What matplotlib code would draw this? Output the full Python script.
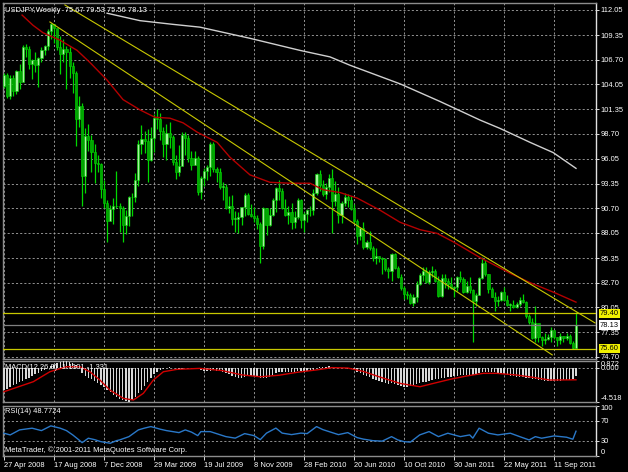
import numpy as np
import matplotlib.pyplot as plt
from matplotlib.transforms import blended_transform_factory

# weekly USDJPY bars, 27 Apr 2008 .. 30 Oct 2011
highs = [105.3, 105.3, 105.0, 105.0, 105.6, 106.2, 108.3, 108.4, 108.2, 106.8, 107.5, 107.0, 108.1, 108.3, 110.0, 110.7,
         110.5, 110.0, 109.3, 108.9, 108.2, 108.1, 106.5, 105.5, 102.8, 102.0, 99.3, 99.8, 98.6, 97.6, 96.4, 95.6,
         93.7, 91.6, 91.1, 91.8, 94.7, 91.3, 91.0, 90.5, 92.0, 92.3, 94.5, 98.1, 99.7, 99.0, 99.2, 99.5,
         100.8, 101.4, 101.0, 99.5, 99.8, 100.0, 98.6, 96.4, 97.5, 98.9, 98.9, 98.6, 96.9, 96.9, 96.3, 94.2,
         95.0, 95.4, 97.8, 97.8, 95.1, 95.0, 93.5, 93.3, 92.0, 92.1, 90.4, 90.3, 90.8, 92.3, 92.3, 91.2,
         90.8, 90.0, 89.2, 90.8, 90.6, 90.7, 91.8, 93.0, 93.8, 92.9, 91.7, 90.9, 91.3, 90.4, 91.8, 91.7,
         90.3, 90.6, 91.0, 92.8, 94.5, 94.8, 93.7, 93.4, 94.4, 94.9, 93.6, 93.0, 91.5, 92.3, 92.2, 92.0,
         91.2, 89.6, 88.7, 89.2, 87.3, 88.3, 86.6, 86.4, 85.6, 85.5, 85.3, 84.4, 85.9, 85.9, 84.5, 83.6,
         82.3, 81.8, 81.6, 81.5, 82.9, 83.7, 84.4, 84.4, 84.1, 84.5, 84.2, 83.4, 83.6, 83.6, 83.2, 83.3,
         82.3, 83.4, 84.0, 83.3, 82.9, 83.3, 82.0, 81.6, 83.3, 85.5, 85.1, 83.6, 82.2, 81.7, 81.3, 81.8,
         82.2, 81.4, 80.5, 80.8, 80.6, 81.1, 81.5, 80.7, 79.3, 78.9, 80.2, 78.0, 77.0, 77.3, 77.2, 77.9,
         77.5, 76.8, 77.3, 77.0, 77.3, 77.2, 76.4, 79.53]
lows = [103.6, 102.6, 102.5, 102.8, 103.0, 103.5, 104.5, 107.0, 105.7, 104.6, 105.4, 103.8, 106.4, 107.2, 107.7, 108.9,
        108.5, 107.7, 105.2, 106.5, 103.5, 104.7, 103.1, 97.4, 99.5, 90.9, 92.3, 96.9, 94.6, 93.4, 94.6, 91.8,
        90.7, 87.1, 89.8, 89.0, 90.7, 88.2, 87.1, 87.9, 88.8, 89.9, 91.4, 93.1, 96.5, 96.7, 93.5, 95.8,
        96.8, 99.2, 98.0, 96.2, 95.9, 97.2, 95.4, 93.9, 94.2, 95.6, 96.4, 95.7, 94.8, 95.5, 92.1, 91.7,
        93.1, 93.7, 94.2, 94.6, 93.5, 92.8, 91.6, 90.6, 90.2, 88.9, 88.2, 88.0, 88.9, 89.9, 90.0, 89.8,
        89.2, 88.5, 84.8, 86.3, 87.8, 88.8, 89.9, 90.3, 91.6, 90.6, 89.9, 89.0, 88.5, 88.6, 89.6, 88.6,
        88.1, 89.2, 89.9, 90.0, 92.1, 92.6, 92.0, 91.7, 92.5, 88.0, 91.0, 89.1, 89.1, 91.0, 90.8, 90.5,
        89.1, 86.9, 87.3, 86.3, 86.3, 86.2, 85.0, 84.7, 84.9, 83.6, 83.9, 83.2, 82.9, 84.2, 83.2, 81.9,
        80.9, 80.9, 80.4, 80.2, 80.6, 82.4, 82.9, 82.7, 82.6, 83.3, 82.8, 81.2, 81.2, 82.1, 82.0, 82.0,
        81.1, 81.8, 82.8, 81.6, 81.6, 81.6, 76.3, 80.2, 81.4, 83.1, 83.4, 81.6, 81.1, 79.6, 80.2, 80.7,
        80.7, 80.2, 79.7, 80.0, 80.0, 80.2, 80.5, 78.9, 78.2, 76.6, 76.3, 76.3, 75.9, 76.1, 76.5, 76.3,
        76.6, 75.9, 76.1, 76.3, 76.5, 76.1, 75.6, 75.56]
closes = [105.1, 102.8, 104.7, 103.3, 105.5, 104.3, 108.1, 107.8, 106.2, 106.7, 106.1, 106.9, 107.7, 108.2, 109.8, 110.5,
          110.1, 108.1, 107.3, 107.8, 107.5, 106.0, 105.3, 100.3, 101.7, 94.2, 98.5, 98.0, 96.8, 95.6, 95.5, 92.8,
          91.3, 89.3, 90.6, 91.0, 90.9, 90.7, 88.9, 89.9, 91.9, 91.9, 93.7, 97.6, 98.2, 97.9, 95.9, 98.3,
          100.4, 100.3, 99.0, 97.6, 98.8, 98.4, 95.7, 94.6, 95.3, 98.6, 98.3, 96.1, 95.4, 96.1, 92.5, 94.0,
          94.7, 95.2, 97.6, 94.9, 94.6, 93.0, 93.0, 90.7, 90.9, 89.6, 89.6, 89.8, 90.8, 92.1, 90.1, 89.9,
          89.7, 89.0, 86.6, 90.7, 88.9, 90.0, 91.6, 92.9, 92.6, 90.7, 90.0, 90.3, 89.2, 89.8, 91.6, 89.4,
          90.1, 90.5, 90.5, 92.4, 94.4, 93.2, 92.2, 93.0, 94.0, 91.5, 92.2, 90.0, 91.3, 91.9, 91.6, 90.6,
          89.3, 87.7, 88.6, 86.5, 87.1, 86.4, 85.4, 85.6, 85.4, 85.2, 84.2, 83.9, 85.8, 84.3, 83.3, 82.1,
          81.5, 81.4, 80.5, 81.2, 82.5, 83.5, 84.0, 82.8, 83.8, 83.9, 82.9, 81.3, 83.2, 82.9, 82.5, 82.1,
          82.2, 83.3, 83.1, 81.7, 82.3, 81.9, 80.7, 81.4, 83.2, 84.8, 83.6, 82.0, 81.2, 80.7, 80.8, 81.7,
          80.8, 80.3, 80.3, 80.1, 80.4, 80.8, 80.6, 79.1, 78.5, 76.7, 78.4, 76.8, 76.5, 76.6, 76.8, 77.6,
          76.8, 76.5, 77.0, 76.7, 77.0, 76.2, 75.67, 78.13]
first_open = 103.9
opens = [first_open] + closes[:-1]

# moving averages
ma_red_bars = [5.8, 9.3, 12.5, 17.9, 23.4, 27.5, 33.0, 38.1, 43.5, 48.3, 53.1, 57.3, 61.8, 68.2, 72.3, 78.7,
               85.1, 91.5, 97.9, 102.1, 107.5, 113.0, 120.3, 126.7, 133.1, 138.6, 143.7, 152.3, 162.0, 168.3, 176.3, 183]
ma_red_vals = [111.5, 110.4, 109.6, 108.8, 107.7, 106.4, 104.5, 102.4, 101.3, 100.5, 100.4, 99.9, 98.9, 97.8, 96.2, 94.3,
               93.5, 93.4, 93.4, 92.7, 92.4, 91.8, 90.5, 89.2, 88.4, 88.0, 87.1, 85.4, 83.7, 82.7, 81.6, 80.6]
ma_white_bars = [33.0, 43.5, 54.1, 62.7, 78.7, 94.7, 104.3, 110.7, 126.7, 139.5, 152.3, 158.7, 168.3, 175.7, 183]
ma_white_vals = [111.7, 110.9, 110.5, 110.2, 109.0, 107.7, 107.0, 106.1, 104.1, 102.2, 100.2, 99.3, 97.8, 96.7, 95.0]

# trend lines and levels
trend_upper = ([19.5, 189.1], [112.59, 78.36])
trend_lower = ([14.7, 175.4], [110.76, 74.92])
levels = [79.40, 75.60]
bid = 78.13

# MACD(12,26,9) main, one value per bar
macd = [-2.95, -2.75, -2.5, -2.3, -2.1, -1.9, -1.7, -1.45, -1.3, -1.1, -0.9, -0.7, -0.45, -0.25, -0.05, 0.15,
        0.35, 0.55, 0.72, 0.87, 0.85, 0.75, 0.6, 0.35, -0.1, -0.75, -1.1, -1.3, -1.5, -1.75, -2.0, -2.3,
        -2.6, -2.95, -3.25, -3.55, -3.85, -4.1, -4.3, -4.45, -4.52, -4.3, -3.9, -3.4, -3.0, -2.4, -1.9, -1.3,
        -0.9, -0.55, -0.3, -0.15, -0.05, 0.05, 0.0, -0.1, -0.2, -0.15, -0.05, 0.0, -0.05, -0.1, -0.2, -0.35,
        -0.45, -0.5, -0.45, -0.35, -0.4, -0.5, -0.6, -0.75, -0.9, -1.05, -1.2, -1.3, -1.3, -1.2, -1.15, -1.15,
        -1.15, -1.2, -1.4, -1.35, -1.3, -1.2, -1.0, -0.75, -0.6, -0.55, -0.55, -0.55, -0.6, -0.6, -0.5, -0.5,
        -0.5, -0.45, -0.4, -0.3, -0.1, 0.05, 0.1, 0.1, 0.15, 0.1, 0.05, -0.05, -0.1, -0.1, -0.15, -0.2,
        -0.35, -0.6, -0.75, -0.95, -1.1, -1.25, -1.45, -1.6, -1.75, -1.85, -2.0, -2.1, -2.05, -2.1, -2.25, -2.4,
        -2.5, -2.52, -2.45, -2.35, -2.2, -2.07, -1.95, -1.85, -1.72, -1.63, -1.55, -1.5, -1.42, -1.35, -1.28, -1.2,
        -1.15, -1.08, -1.02, -0.98, -0.97, -0.95, -1.0, -0.9, -0.75, -0.62, -0.55, -0.53, -0.55, -0.62, -0.7, -0.75,
        -0.85, -0.95, -1.05, -1.12, -1.2, -1.25, -1.28, -1.35, -1.42, -1.5, -1.54, -1.62, -1.68, -1.72, -1.74, -1.72,
        -1.72, -1.72, -1.7, -1.68, -1.63, -1.6, -1.54, -1.11]
sig_bars = [0, 9.4, 14.7, 20, 24.3, 27.5, 30.7, 33.9, 38.2, 41.4, 44.6, 47.8, 51, 55.3, 62.7, 70, 76, 82, 88, 94,
            100, 105, 110, 115, 120, 126.7, 133.1, 137.4, 142.7, 148, 153.3, 157.6, 164, 169.3, 174.6, 183]
sig_vals = [-3.17, -1.85, -0.54, 0.12, 0.12, -0.54, -1.63, -2.95, -4.04, -4.26, -3.38, -1.63, -0.54, -0.23, -0.1, -0.4,
            -0.95, -1.2, -1.0, -0.6, -0.3, 0.0, -0.05, -0.5, -1.2, -2.07, -2.51, -2.07, -1.54, -1.1, -0.75, -0.75,
            -0.97, -1.28, -1.63, -1.6]

# RSI(14)
rsi_bars = [0, 2, 5, 9, 12, 15, 18, 20, 22, 24, 25, 27, 29, 31, 34, 36, 37, 40, 43, 45, 47, 50, 52, 54, 56, 58,
            60, 62, 63, 66, 68, 71, 74, 77, 80, 82, 84, 87, 89, 92, 95, 97, 100, 102, 105, 107, 110, 113, 115,
            118, 121, 124, 126, 128, 130, 133, 136, 139, 142, 146, 149, 150, 152, 155, 158, 162, 165, 168, 170,
            172, 176, 180, 182, 183]
rsi_vals = [44.8, 41.4, 51.4, 54.8, 50, 59.4, 54.8, 50, 41.4, 31.4, 26, 34.8, 32, 28, 24.8, 30, 31.4, 38, 51.4, 55,
            58, 52.8, 50, 48, 46, 51.4, 47, 40, 48, 48, 44, 38, 35, 44, 40, 32, 45, 55, 45, 42, 45, 44, 58, 52,
            46, 42, 46, 36, 33, 30, 29, 38, 31.4, 28, 27, 41.4, 48, 38, 44.8, 38, 41.4, 35, 54.8, 44.8, 41.4,
            44.8, 38, 31.4, 38, 34.8, 39.4, 36.8, 32.8, 48.7724]

price_ticks = [112.05, 109.35, 106.70, 104.05, 101.35, 98.70, 96.05, 93.35, 90.70, 88.05, 85.35, 82.70, 80.05, 77.35, 74.70]
date_bars = [0, 16, 32, 48, 64, 80, 96, 112, 128, 144, 160, 176]
date_labels = ['27 Apr 2008', '17 Aug 2008', '7 Dec 2008', '29 Mar 2009', '19 Jul 2009', '8 Nov 2009',
               '28 Feb 2010', '20 Jun 2010', '10 Oct 2010', '30 Jan 2011', '22 May 2011', '11 Sep 2011']

plt.rcParams['font.family'] = ['Liberation Sans', 'DejaVu Sans']
fs = 5.4
W, H = 628, 472
fig = plt.figure(figsize=(W / 100, H / 100), dpi=100, facecolor='black')


def px_axes(x0, y0, x1, y1):
    return fig.add_axes([x0 / W, 1 - y1 / H, (x1 - x0) / W, (y1 - y0) / H], facecolor='black')


ax = px_axes(3, 3, 596, 359)
axm = px_axes(3, 361, 596, 402)
axr = px_axes(3, 405.5, 596, 455.7)

dots = (0, (2.5, 2.5))
grid_c = '#a8a8a8'
for a in (ax, axm, axr):
    a.set_xlim(-0.3, 189.4)
    a.set_xticks(date_bars)
    a.grid(axis='x', color=grid_c, linestyle=dots, linewidth=0.6)
    a.tick_params(axis='x', length=0, labelbottom=False)
    for s in a.spines.values():
        s.set_color('#8c8c8c')
        s.set_linewidth(1.0)
    a.spines['right'].set_color('#e0e0e0')
    a.yaxis.tick_right()
    a.tick_params(axis='y', colors='white', labelsize=fs, length=2, width=0.6, pad=1.5)
    a.set_axisbelow(True)

# ---- main price panel
x = np.arange(len(closes))
o = np.array(opens)
c = np.array(closes)
up = c >= o
body_lo = np.minimum(o, c)
body_h = np.maximum(np.abs(c - o), 0.06)
wick = '#00d800'
ax.vlines(x, lows, highs, color=wick, linewidth=0.9, zorder=3)
ax.bar(x[up], body_h[up], bottom=body_lo[up], width=0.68, color='#a8f5a0', edgecolor=wick, linewidth=0.4, zorder=4)
ax.bar(x[~up], body_h[~up], bottom=body_lo[~up], width=0.68, color='#00a800', edgecolor=wick, linewidth=0.4, zorder=4)

ax.plot(ma_red_bars, ma_red_vals, color='#b40000', linewidth=1.0, zorder=5)
ax.plot(ma_white_bars, ma_white_vals, color='#d0d0d0', linewidth=1.0, zorder=5)
ax.plot(*trend_upper, color='#c8c800', linewidth=0.8, zorder=5)
ax.plot(*trend_lower, color='#c8c800', linewidth=0.8, zorder=5)
for lv in levels:
    ax.axhline(lv, color='#c8c800', linewidth=0.9, zorder=5)
ax.axhline(bid, color='#808080', linewidth=0.9, zorder=5)

ax.set_ylim(74.48, 112.80)
ax.set_yticks(price_ticks)
ax.set_yticklabels(['%.2f' % p for p in price_ticks])
ax.grid(axis='y', color=grid_c, linestyle=dots, linewidth=0.6)

tr = blended_transform_factory(ax.transAxes, ax.transData)
for lv in levels:
    ax.text(1.0 + 4 / 593, lv, '%.2f' % lv, transform=tr, fontsize=fs, color='black', va='center', ha='left',
            bbox=dict(facecolor='#f0f000', edgecolor='none', pad=0.8), zorder=10, clip_on=False)
ax.text(1.0 + 4 / 593, bid, '%.2f' % bid, transform=tr, fontsize=fs, color='black', va='center', ha='left',
        bbox=dict(facecolor='white', edgecolor='none', pad=0.8), zorder=10, clip_on=False)

ax.text(0.004, 0.99, 'USDJPY,Weekly  %.2f %.2f %.2f %.2f' % (opens[-1], highs[-1], lows[-1], closes[-1]),
        transform=ax.transAxes, fontsize=fs, color='white', va='top', ha='left', zorder=8)

# ---- MACD panel
axm.bar(x, macd, width=0.45, color='#d8d8d8', zorder=3)
axm.plot(sig_bars, sig_vals, color='#d00000', linewidth=1.0, zorder=4)
axm.axhline(0, color=grid_c, linestyle=dots, linewidth=0.6, zorder=1)
axm.set_ylim(-4.518, 0.872)
axm.set_yticks([0.872, 0.0, -4.518])
axm.set_yticklabels(['0.872', '0.000', '-4.518'])
mlabels = axm.get_yticklabels()
mlabels[0].set_va('top')
mlabels[2].set_va('bottom')
axm.text(0.004, 0.93, 'MACD(12,26,9) -1.1101 -1.331', transform=axm.transAxes, fontsize=fs,
         color='white', va='top', ha='left', zorder=6)

# ---- RSI panel
axr.plot(rsi_bars, rsi_vals, color='#2a78c8', linewidth=1.0, zorder=4)
for lv in (70, 30):
    axr.axhline(lv, color=grid_c, linestyle=dots, linewidth=0.6, zorder=1)
axr.set_ylim(0, 100)
axr.set_yticks([100, 70, 30, 0])
axr.set_yticklabels(['100', '70', '30', '0'])
rlabels = axr.get_yticklabels()
rlabels[0].set_va('top')
rlabels[3].set_va('bottom')
axr.text(0.004, 0.95, 'RSI(14) %.4f' % rsi_vals[-1], transform=axr.transAxes, fontsize=fs,
         color='white', va='top', ha='left')
axr.text(0.004, 0.04, 'MetaTrader, \u00a9 2001-2011 MetaQuotes Software Corp.', transform=axr.transAxes,
         fontsize=fs, color='white', va='bottom', ha='left')

axr.tick_params(axis='x', length=3, width=0.6, color='white', labelbottom=True, labelsize=fs,
                labelcolor='white', pad=1.5)
axr.set_xticklabels(date_labels, ha='left')

fig.savefig('out.png', dpi=100, facecolor='black')
